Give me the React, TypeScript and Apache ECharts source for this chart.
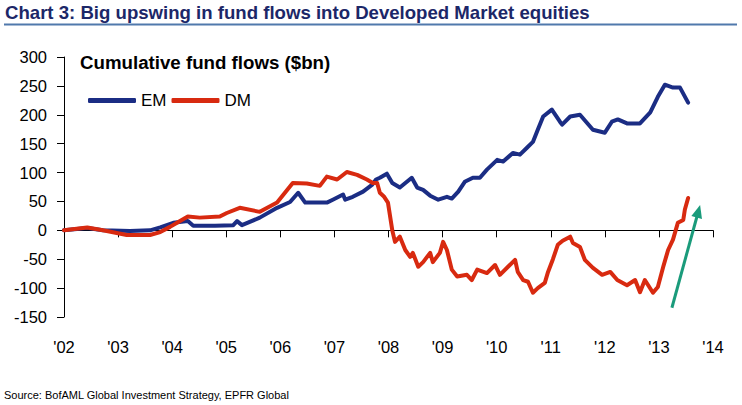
import React, { useEffect, useRef } from "react";
import * as echarts from "echarts";

const TITLE = "Chart 3: Big upswing in fund flows into Developed Market equities";
const SUBTITLE = "Cumulative fund flows ($bn)";
const SOURCE = "Source: BofAML Global Investment Strategy, EPFR Global";
const SERIES_NAMES = ["EM", "DM"];
const X_MIN = 2002;
const X_MAX = 2014;
const Y_MIN = -150;
const Y_MAX = 300;

const emYears = [
  2002.0, 2002.43, 2002.72, 2003.22, 2003.59, 2003.78, 2004.02, 2004.29, 2004.39, 2004.79,
  2005.13, 2005.2, 2005.29, 2005.62, 2005.94, 2006.18, 2006.33, 2006.46, 2006.86, 2006.97,
  2007.16, 2007.2, 2007.34, 2007.53, 2007.7, 2007.77, 2007.84, 2007.97, 2008.07, 2008.21,
  2008.43, 2008.53, 2008.64, 2008.77, 2008.92, 2009.08, 2009.17, 2009.29, 2009.41, 2009.56,
  2009.69, 2009.82, 2010.01, 2010.12, 2010.3, 2010.43, 2010.56, 2010.67, 2010.76, 2010.86,
  2011.02, 2011.17, 2011.21, 2011.36, 2011.54, 2011.78, 2012.0, 2012.13, 2012.24, 2012.41,
  2012.65, 2012.84, 2012.98, 2013.11, 2013.26, 2013.39, 2013.54,
];
const emValues = [
  0, 4, 0, -1, 0, 5, 13, 16, 8, 8,
  9, 16, 9, 22, 39, 49, 65, 48, 48, 53,
  62, 53, 58, 67, 79, 88, 91, 98, 82, 74,
  91, 74, 70, 60, 53, 58, 55, 67, 84, 91,
  91, 105, 122, 119, 134, 131, 143, 153, 174, 197,
  209, 188, 183, 197, 200, 174, 169, 188, 192, 185,
  185, 204, 231, 252, 247, 247, 221,
];

const dmYears = [
  2002.0, 2002.43, 2002.72, 2003.16, 2003.59, 2003.78, 2003.96, 2004.09, 2004.29, 2004.51,
  2004.88, 2005.01, 2005.25, 2005.62, 2005.94, 2006.23, 2006.49, 2006.73, 2006.86, 2007.05,
  2007.23, 2007.42, 2007.6, 2007.71, 2007.79, 2007.84, 2007.92, 2007.99, 2008.07, 2008.12,
  2008.21, 2008.31, 2008.4, 2008.45, 2008.55, 2008.64, 2008.77, 2008.82, 2008.95, 2009.01,
  2009.08, 2009.17, 2009.27, 2009.45, 2009.54, 2009.64, 2009.82, 2009.97, 2010.06, 2010.21,
  2010.34, 2010.39, 2010.49, 2010.58, 2010.67, 2010.76, 2010.89, 2010.95, 2011.04, 2011.13,
  2011.22, 2011.36, 2011.41, 2011.54, 2011.63, 2011.78, 2011.95, 2012.1, 2012.23, 2012.41,
  2012.56, 2012.65, 2012.74, 2012.89, 2012.98, 2013.08, 2013.17, 2013.26, 2013.35, 2013.45,
  2013.48, 2013.54,
];
const dmValues = [
  0, 5, 0, -8, -8, -3, 6, 13, 24, 22,
  24, 30, 39, 32, 48, 82, 81, 77, 93, 88,
  101, 96, 88, 82, 82, 65, 58, 48, 0, -20,
  -11, -34, -46, -39, -63, -55, -39, -55, -39, -20,
  -34, -68, -80, -77, -86, -68, -74, -60, -77, -63,
  -51, -72, -86, -89, -108, -100, -91, -72, -50, -25,
  -18, -11, -22, -29, -51, -65, -77, -72, -86, -95,
  -86, -107, -86, -108, -98, -63, -34, -16, 13, 18,
  36, 56,
];

const arrowFrom = [2013.24, -134];
const arrowTo = [2013.73, 33];

const FONT = "'Liberation Sans Narrow', 'Arial Narrow', 'Liberation Sans', Arial, sans-serif";

export default function App() {
  const ref = useRef<HTMLDivElement>(null);
  useEffect(() => {
    const chart = echarts.init(ref.current!, null, { renderer: "svg" });
    const em = emYears.map((y, i) => [y, emValues[i]]);
    const dm = dmYears.map((y, i) => [y, dmValues[i]]);
    chart.setOption({
      animation: false,
      backgroundColor: "#ffffff",
      grid: { left: 64, right: 29, top: 57, bottom: 88 },
      legend: {
        data: SERIES_NAMES,
        left: 83,
        top: 87,
        itemWidth: 48,
        itemHeight: 5,
        itemGap: 5,
        icon: "roundRect",
        textStyle: { fontFamily: FONT, fontSize: 17, color: "#000" },
      },
      xAxis: [
        {
          type: "value",
          min: X_MIN,
          max: X_MAX,
          interval: 1,
          axisLine: { onZero: true, lineStyle: { color: "#000", width: 1 } },
          axisTick: { show: true, length: 7, lineStyle: { color: "#000" } },
          axisLabel: { show: false },
          splitLine: { show: false },
        },
        {
          type: "value",
          position: "bottom",
          min: X_MIN,
          max: X_MAX,
          interval: 1,
          axisLine: { show: false, onZero: false },
          axisTick: { show: false },
          axisLabel: {
            show: true,
            margin: 21,
            fontFamily: FONT,
            fontSize: 16.5,
            color: "#000",
            formatter: (v: number) => "'" + String(Math.round(v)).slice(2),
          },
          splitLine: { show: false },
        },
      ],
      yAxis: {
        type: "value",
        min: Y_MIN,
        max: Y_MAX,
        interval: 50,
        axisLine: { show: true, lineStyle: { color: "#000", width: 1 } },
        axisTick: { show: true, length: 7, lineStyle: { color: "#000" } },
        axisLabel: { margin: 17, fontFamily: FONT, fontSize: 16.5, color: "#000" },
        splitLine: { show: false },
      },
      series: [
        {
          name: "EM",
          type: "line",
          data: em,
          showSymbol: false,
          symbol: "none",
          color: "#1B2D84",
          lineStyle: { width: 4, color: "#1B2D84", join: "round", cap: "round" },
        },
        {
          name: "DM",
          type: "line",
          data: dm,
          showSymbol: false,
          symbol: "none",
          color: "#D82A10",
          lineStyle: { width: 4, color: "#D82A10", join: "round", cap: "round" },
          markLine: {
            silent: true,
            symbol: ["none", "triangle"],
            symbolSize: [11, 13],
            label: { show: false },
            lineStyle: { color: "#1A9B7B", width: 3, type: "solid" },
            data: [[{ coord: arrowFrom }, { coord: arrowTo }]],
          },
        },
      ],
      graphic: [
        {
          type: "text",
          left: 5,
          top: 3,
          style: {
            text: TITLE,
            fontFamily: FONT,
            fontSize: 18.6,
            fontWeight: "bold",
            fill: "#1C2768",
          },
        },
        {
          type: "line",
          shape: { x1: 4, y1: 24.5, x2: 737, y2: 24.5 },
          style: { stroke: "#5079AC", lineWidth: 2 },
        },
        {
          type: "text",
          left: 80,
          top: 53,
          style: {
            text: SUBTITLE,
            fontFamily: FONT,
            fontSize: 18.7,
            fontWeight: "bold",
            fill: "#000",
          },
        },
        {
          type: "text",
          left: 4,
          top: 389,
          style: {
            text: SOURCE,
            fontFamily: "'Liberation Sans', Arial, sans-serif",
            fontSize: 11,
            fill: "#000",
          },
        },
      ],
    });
    return () => chart.dispose();
  }, []);
  return (
    <div
      ref={ref}
      style={{ position: "fixed", left: 0, top: 0, width: 742, height: 405, background: "#fff" }}
    />
  );
}
